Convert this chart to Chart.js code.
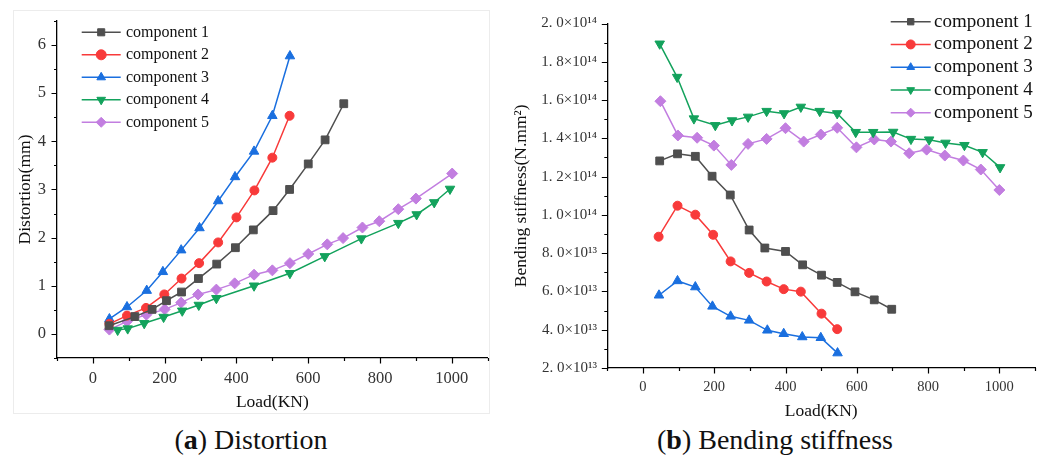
<!DOCTYPE html>
<html>
<head>
<meta charset="utf-8">
<script src="https://cdn.jsdelivr.net/npm/chart.js@4.4.0/dist/chart.umd.min.js"></script>
<style>
  body { margin:0; background:#fff; width:1047px; height:455px; overflow:hidden; position:relative; font-family:'Liberation Serif', serif; }
  #frameA { position:absolute; left:13px; top:10px; width:475px; height:402px; border:1px solid #ececec; }
  #chartA { position:absolute; left:0; top:0; }
  #chartB { position:absolute; left:500px; top:0; }
  .cap { position:absolute; top:423px; font-size:28px; line-height:34px; color:#111; white-space:nowrap; transform:translateX(-50%); }
</style>
</head>
<body>
<div id="frameA"></div>
<canvas id="chartA" width="500" height="420"></canvas>
<canvas id="chartB" width="547" height="420"></canvas>
<div class="cap" style="left:251px">(<b>a</b>) Distortion</div>
<div class="cap" style="left:775px">(<b>b</b>) Bending stiffness</div>

<script>
// ---- (a) Distortion data: load (KN) / distortion (mm)
const loadA1 = [45, 117, 165, 205, 247, 294, 345, 397, 447, 502, 548, 600, 647, 699];
const distA1 = [0.17, 0.36, 0.51, 0.69, 0.87, 1.15, 1.45, 1.79, 2.16, 2.56, 3.0, 3.53, 4.03, 4.78];
const loadA2 = [46, 95, 148, 199, 247, 296, 349, 400, 450, 500, 548];
const distA2 = [0.21, 0.38, 0.54, 0.82, 1.15, 1.47, 1.9, 2.42, 2.98, 3.66, 4.53];
const loadA3 = [46, 95, 150, 195, 246, 297, 349, 396, 449, 500, 549];
const distA3 = [0.31, 0.56, 0.9, 1.29, 1.74, 2.2, 2.76, 3.26, 3.79, 4.53, 5.77];
const loadA4 = [69, 97, 143, 197, 249, 295, 344, 449, 549, 646, 748, 851, 902, 951, 995];
const distA4 = [0.08, 0.11, 0.22, 0.35, 0.48, 0.6, 0.74, 1.0, 1.26, 1.61, 1.98, 2.3, 2.48, 2.73, 3.01];
const loadA5 = [46, 95, 149, 200, 246, 293, 344, 395, 449, 500, 549, 600, 653, 697, 751, 798, 851, 900, 1001];
const distA5 = [0.09, 0.26, 0.4, 0.51, 0.65, 0.82, 0.92, 1.05, 1.23, 1.32, 1.47, 1.66, 1.86, 1.99, 2.21, 2.34, 2.59, 2.81, 3.33];

// ---- (b) Bending stiffness data: load (KN) / stiffness (N.mm2)
const loadB1 = [47, 97, 147, 194, 245, 298, 342, 400, 448, 501, 545, 595, 649, 698];
const stifB1 = [1.282e14, 1.319e14, 1.306e14, 1.202e14, 1.104e14, 9.21e13, 8.27e13, 8.09e13, 7.39e13, 6.85e13, 6.47e13, 5.98e13, 5.56e13, 5.07e13];
const loadB2 = [44, 97, 147, 197, 246, 298, 347, 395, 443, 501, 545];
const stifB2 = [8.86e13, 1.048e14, 1.001e14, 8.96e13, 7.57e13, 6.97e13, 6.52e13, 6.12e13, 5.99e13, 4.84e13, 4.03e13];
const loadB3 = [45, 97, 147, 195, 246, 298, 349, 395, 447, 499, 546];
const stifB3 = [5.8e13, 6.55e13, 6.23e13, 5.22e13, 4.7e13, 4.49e13, 3.97e13, 3.79e13, 3.62e13, 3.58e13, 2.78e13];
const loadB4 = [47, 96, 143, 203, 250, 295, 347, 396, 443, 496, 545, 597, 646, 702, 752, 803, 849, 902, 953, 1002];
const stifB4 = [1.894e14, 1.72e14, 1.503e14, 1.468e14, 1.493e14, 1.512e14, 1.542e14, 1.53e14, 1.564e14, 1.542e14, 1.53e14, 1.432e14, 1.432e14, 1.433e14, 1.396e14, 1.393e14, 1.376e14, 1.364e14, 1.327e14, 1.248e14];
const loadB5 = [49, 98, 152, 199, 248, 295, 347, 400, 451, 499, 545, 599, 649, 696, 747, 796, 847, 899, 948, 1000];
const stifB5 = [1.594e14, 1.415e14, 1.403e14, 1.362e14, 1.261e14, 1.371e14, 1.397e14, 1.453e14, 1.383e14, 1.42e14, 1.455e14, 1.353e14, 1.394e14, 1.383e14, 1.322e14, 1.341e14, 1.31e14, 1.284e14, 1.237e14, 1.13e14];

const seriesNames = ['component 1', 'component 2', 'component 3', 'component 4', 'component 5'];

// styles kept apart from the values
const seriesStyle = [
  { color:'#4f4f4f', pointStyle:'rect',     rotation:0,   radius:5.5 },
  { color:'#f83a3a', pointStyle:'circle',   rotation:0,   radius:4.5 },
  { color:'#1a6fdf', pointStyle:'triangle', rotation:0,   radius:5.5 },
  { color:'#13a25c', pointStyle:'triangle', rotation:180, radius:5.5 },
  { color:'#c27ee0', pointStyle:'rectRot',  rotation:0,   radius:5.5 },
];

function makeDatasets(xsList, ysList) {
  return seriesStyle.map((s, i) => ({
    label: seriesNames[i],
    data: xsList[i].map((x, j) => ({ x: x, y: ysList[i][j] })),
    borderColor: s.color, backgroundColor: s.color,
    pointStyle: s.pointStyle, pointRotation: s.rotation,
    pointRadius: s.radius, pointBorderWidth: 1, pointHoverRadius: s.radius,
    borderWidth: 1.5, showLine: true, tension: 0
  }));
}

// outward major/minor tick marks (minor = unlabeled tick)
const axisTicks = {
  id: 'axisTicks',
  afterDraw(chart) {
    const { ctx } = chart;
    const x = chart.scales.x, y = chart.scales.y;
    ctx.save();
    ctx.strokeStyle = '#000';
    ctx.lineWidth = 1.2;
    ctx.beginPath();
    x.ticks.forEach(t => {
      const px = Math.round(x.getPixelForValue(t.value)) + 0.5;
      const len = t.label !== '' ? 5.5 : 3;
      ctx.moveTo(px, x.top); ctx.lineTo(px, x.top + len);
    });
    y.ticks.forEach(t => {
      const py = Math.round(y.getPixelForValue(t.value)) + 0.5;
      const len = t.label !== '' ? 5.5 : 3;
      ctx.moveTo(y.right, py); ctx.lineTo(y.right - len, py);
    });
    ctx.stroke();
    ctx.restore();
  }
};

// legend drawn as line + marker like the original
const lineLegend = {
  id: 'lineLegend',
  afterDraw(chart, args, o) {
    const ctx = chart.ctx;
    ctx.save();
    chart.data.datasets.forEach((ds, i) => {
      const y = o.y + i * o.gap;
      ctx.strokeStyle = ds.borderColor;
      ctx.lineWidth = 1.5;
      ctx.beginPath(); ctx.moveTo(o.x, y); ctx.lineTo(o.x + o.len, y); ctx.stroke();
      ctx.fillStyle = ds.backgroundColor;
      ctx.lineWidth = 1;
      Chart.helpers.drawPoint(ctx, { pointStyle: ds.pointStyle, rotation: ds.pointRotation, radius: o.radius, borderWidth: 1 }, o.x + o.len / 2, y);
      ctx.fillStyle = '#111';
      ctx.font = o.font;
      ctx.textBaseline = 'middle';
      ctx.textAlign = 'left';
      ctx.fillText(ds.label, o.x + o.len + o.pad, y);
    });
    ctx.restore();
  }
};

Chart.defaults.font.family = "'Liberation Serif', 'Times New Roman', serif";
Chart.defaults.color = '#333';

const axisBorder = { display: true, color: '#000', width: 1.3 };
const noGrid = { display: false, drawTicks: false };

// (a) Distortion
new Chart(document.getElementById('chartA'), {
  type: 'scatter',
  data: { datasets: makeDatasets([loadA1, loadA2, loadA3, loadA4, loadA5], [distA1, distA2, distA3, distA4, distA5]) },
  options: {
    responsive: false, animation: false, events: [],
    layout: { padding: { top: 10.7, right: 12.3, left: 0, bottom: 0 } },
    plugins: {
      legend: { display: false }, tooltip: { enabled: false },
      lineLegend: { x: 81.7, y: 32.3, gap: 22.5, len: 39, pad: 5.3, radius: 5, font: "16px 'Liberation Serif', serif" }
    },
    scales: {
      x: {
        type: 'linear', min: -100, max: 1100,
        afterFit: s => { s.height = 62; },
        grid: noGrid, border: axisBorder,
        ticks: { stepSize: 100, autoSkip: false, maxRotation: 0, padding: 10.4, color: '#333', font: { size: 16.5 },
          callback: v => (v >= 0 && Math.round(v) % 200 === 0) ? String(Math.round(v)) : '' },
        title: { display: true, text: 'Load(KN)', color: '#111', font: { size: 17.5, lineHeight: 1 }, padding: { top: 0, bottom: 8.5 } }
      },
      y: {
        min: -0.5, max: 6.5,
        afterFit: s => { s.width = 57; },
        grid: noGrid, border: axisBorder,
        ticks: { stepSize: 0.5, autoSkip: false, padding: 11, color: '#333', font: { size: 16.5 },
          callback: v => Number.isInteger(v) ? String(v) : '' },
        title: { display: true, text: 'Distortion(mm)', color: '#111', font: { size: 17.5, lineHeight: 1 }, padding: { top: 16.2, bottom: 0 } }
      }
    }
  },
  plugins: [axisTicks, lineLegend]
});

// (b) Bending stiffness
const supMap = { 13: '\u00b9\u00b3', 14: '\u00b9\u2074' };
new Chart(document.getElementById('chartB'), {
  type: 'scatter',
  data: { datasets: makeDatasets([loadB1, loadB2, loadB3, loadB4, loadB5], [stifB1, stifB2, stifB3, stifB4, stifB5]) },
  options: {
    responsive: false, animation: false, events: [],
    layout: { padding: { top: 23.5, right: 12, left: 0, bottom: 0 } },
    plugins: {
      legend: { display: false }, tooltip: { enabled: false },
      lineLegend: { x: 390.7, y: 21.7, gap: 22.75, len: 40, pad: 3.3, radius: 4.5, font: "19px 'Liberation Serif', serif" }
    },
    scales: {
      x: {
        type: 'linear', min: -100, max: 1100,
        afterFit: s => { s.height = 52; },
        grid: noGrid, border: axisBorder,
        ticks: { stepSize: 100, autoSkip: false, maxRotation: 0, padding: 10.6, color: '#333', font: { size: 14.5 },
          callback: v => (v >= 0 && Math.round(v) % 200 === 0) ? String(Math.round(v)) : '' },
        title: { display: true, text: 'Load(KN)', color: '#111', font: { size: 17.5, lineHeight: 1 }, padding: { top: 0, bottom: 0 } }
      },
      y: {
        min: 2e13, max: 2e14,
        afterFit: s => { s.width = 107.3; },
        grid: noGrid, border: axisBorder,
        ticks: { stepSize: 1e13, autoSkip: false, padding: 10.3, color: '#333', font: { size: 15 },
          callback: v => {
            const m = Math.round(v / 1e13);
            if (m % 2) return '';
            const mant = m >= 10 ? (m / 10).toFixed(1) : m.toFixed(1);
            return mant.replace('.', '. ') + '\u00d710' + (m >= 10 ? supMap[14] : supMap[13]);
          } },
        title: { display: true, text: 'Bending stiffness(N.mm\u00b2)', color: '#111', font: { size: 17.5, lineHeight: 1 }, padding: { top: 12.2, bottom: 0 } }
      }
    }
  },
  plugins: [axisTicks, lineLegend]
});
</script>
</body>
</html>
